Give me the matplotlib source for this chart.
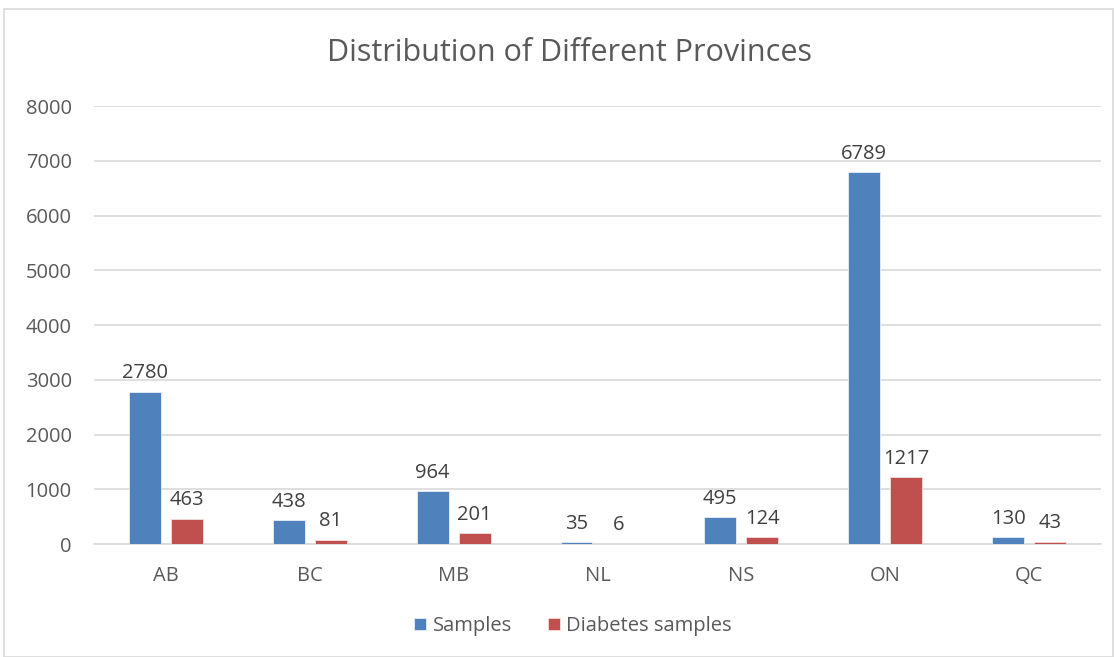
import matplotlib
matplotlib.use("Agg")
import matplotlib.pyplot as plt
import numpy as np
from matplotlib.patches import Rectangle

categories = ["AB", "BC", "MB", "NL", "NS", "ON", "QC"]
samples = [2780, 438, 964, 35, 495, 6789, 130]
diabetes = [463, 81, 201, 6, 124, 1217, 43]
yticks = [0, 1000, 2000, 3000, 4000, 5000, 6000, 7000, 8000]

plt.rcParams['font.family'] = ['Open Sans', 'DejaVu Sans']

fig = plt.figure(figsize=(11.15, 6.57), dpi=100)
fig.patches.append(Rectangle((4/1115, 0), (1113-4)/1115, (657-9)/657, transform=fig.transFigure,
                             fill=False, edgecolor='#d9d9d9', linewidth=1.2))
ax = fig.add_axes([94/1115, 113/657, 1007/1115, (544-106)/657])

x = np.arange(len(categories))
w = 0.222
off = 0.146
b1 = ax.bar(x - off, samples, w, color='#4F81BD', edgecolor='#e6eef7', linewidth=0.6, label='Samples', zorder=3)
b2 = ax.bar(x + off, diabetes, w, color='#C0504D', edgecolor='#f3dddc', linewidth=0.6, label='Diabetes samples', zorder=3)

for bars, vals in ((b1, samples), (b2, diabetes)):
    for r, v in zip(bars, vals):
        ax.annotate(str(v), (r.get_x() + r.get_width()/2, v), xytext=(0, 6), textcoords='offset points',
                    ha='center', va='bottom', fontsize=14.5, color='#404040')

ax.set_xlim(-0.5, len(categories) - 0.5)
ax.set_ylim(0, 8000)
ax.set_yticks(yticks)
ax.set_yticklabels([str(t) for t in yticks], fontsize=14.5, color='#595959')
ax.set_xticks(x)
ax.set_xticklabels(categories, fontsize=14.5, color='#595959')
ax.tick_params(axis='both', length=0)
ax.tick_params(axis='y', pad=16)
ax.tick_params(axis='x', pad=16)
ax.yaxis.grid(True, color='#d9d9d9', linewidth=1.2, zorder=0)
for s in ['top', 'right', 'left']:
    ax.spines[s].set_visible(False)
ax.spines['bottom'].set_color('#d9d9d9')
ax.spines['bottom'].set_linewidth(1.2)

fig.text(569/1115, 1 - 53/657, "Distribution of Different Provinces", ha='center', va='center',
         fontsize=22, color='#595959')

fig.legend(handles=[b1, b2], loc='center', bbox_to_anchor=(573/1115, 1 - 626/657), ncol=2,
           frameon=False, fontsize=14.5, handlelength=0.6, handleheight=0.6, handletextpad=0.3,
           columnspacing=1.8, labelcolor='#595959')

fig.savefig("out.png", dpi=100)
